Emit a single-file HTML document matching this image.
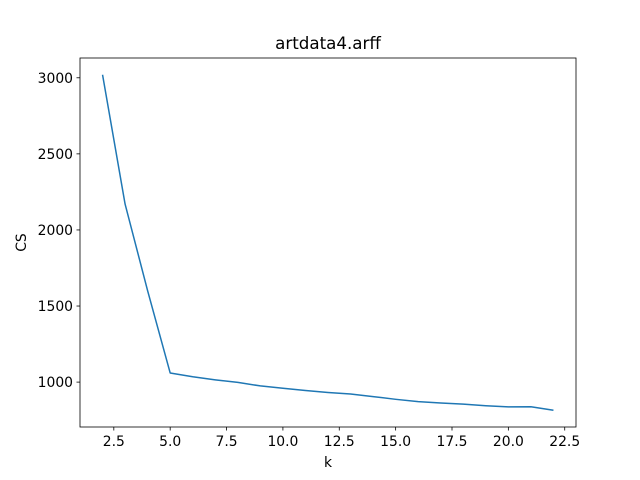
<!DOCTYPE html>
<html><head><meta charset="utf-8"><style>
body{margin:0;background:#fff;}
svg{display:block;font-family:"DejaVu Sans","Liberation Sans",sans-serif;}
</style></head><body>
<svg id="chart" width="640" height="480"></svg>
<script>
const kValues=[2,3,4,5,6,7,8,9,10,11,12,13,14,15,16,17,18,19,20,21,22];
const csValues=[3020,2170,1600,1060,1035,1015,998,975,960,945,932,922,905,887,872,863,855,845,837,838,815];
const xTicks=[2.5,5.0,7.5,10.0,12.5,15.0,17.5,20.0,22.5];
const yTicks=[1000,1500,2000,2500,3000];
const L=80,R=576,T=58,B=427;
const xmin=1,xmax=23,ymin=705,ymax=3130;
const sx=v=>L+(v-xmin)/(xmax-xmin)*(R-L);
const sy=v=>B-(v-ymin)/(ymax-ymin)*(B-T);
const svg=document.getElementById('chart');
const NS='http://www.w3.org/2000/svg';
function mk(tag,attrs,text){const e=document.createElementNS(NS,tag);for(const k in attrs)e.setAttribute(k,attrs[k]);if(text!==undefined)e.textContent=text;svg.appendChild(e);return e;}
let e;
e=mk('rect',{x:L,y:T,width:R-L,height:B-T,fill:'none',stroke:'#000','stroke-width':0.8});


xTicks.forEach(t=>{
 const x=sx(t);
 e=mk('line',{x1:x,x2:x,y1:B,y2:B+3.5,stroke:'#000','stroke-width':0.8});
 
 
 e=mk('text',{x:x,y:B+19,'font-size':13.9,'text-anchor':'middle'},t.toFixed(1));
 
 
});
yTicks.forEach(t=>{
 const y=sy(t);
 e=mk('line',{x1:L-3.5,x2:L,y1:y,y2:y,stroke:'#000','stroke-width':0.8});
 
 
 e=mk('text',{x:L-7,y:y+5,'font-size':13.9,'text-anchor':'end'},String(t));
 
 
});
const pts=kValues.map((k,i)=>sx(k).toFixed(2)+','+sy(csValues[i]).toFixed(2)).join(' ');
e=mk('polyline',{points:pts,fill:'none',stroke:'#1f77b4','stroke-width':1.5,'stroke-linejoin':'round'});


e=mk('text',{x:(L+R)/2,y:T-9,'font-size':16.7,'text-anchor':'middle'},'artdata4.arff');


e=mk('text',{x:(L+R)/2,y:467,'font-size':13.9,'text-anchor':'middle'},'k');


e=mk('text',{x:0,y:0,'font-size':13.9,'text-anchor':'middle',transform:'translate(26,'+((T+B)/2)+') rotate(-90)'},'CS');


</script>
</body></html>
